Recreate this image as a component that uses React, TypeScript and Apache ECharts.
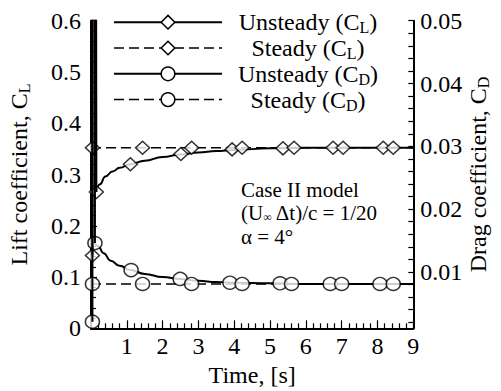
import React, { useEffect, useRef } from 'react';
import * as echarts from 'echarts';

const FONT = '"Liberation Serif", "Times New Roman", serif';

// ---------- data ----------
const LEGEND_NAMES = ['Unsteady (CL)', 'Steady (CL)', 'Unsteady (CD)', 'Steady (CD)'];

// Unsteady lift coefficient
const UCL_SPIKE_T = [0.04, 0.06, 0.15];
const UCL_SPIKE_V = [0.142, 5.0, 0.266];
const UCL_T = [0.15, 0.25, 0.4, 0.6, 0.8, 1.1, 1.5, 2.0, 2.5, 3.0, 3.5, 4.0, 5.0, 6.0, 9.0];
const UCL_V = [0.266, 0.281, 0.296, 0.306, 0.313, 0.32, 0.327, 0.334, 0.339, 0.343, 0.346, 0.348, 0.351, 0.352, 0.352];
const UCL_MARK_T = [0.04, 0.15, 1.1, 2.51, 3.94, 5.36, 6.76, 8.16];
const UCL_MARK_V = [0.142, 0.266, 0.32, 0.34, 0.349, 0.351, 0.352, 0.352];

// Steady lift coefficient
const SCL_T = [0, 9];
const SCL_V = [0.352, 0.352];
const SCL_MARK_T = [0.04, 1.44, 2.81, 4.22, 5.67, 7.04, 8.44];
const SCL_MARK_V = [0.352, 0.352, 0.352, 0.352, 0.352, 0.352, 0.352];

// Unsteady drag coefficient
const UCD_SPIKE_T = [0.04, 0.07, 0.11];
const UCD_SPIKE_V = [0.0021, 1.0, 0.0146];
const UCD_T = [0.11, 0.2, 0.35, 0.55, 0.8, 1.1, 1.5, 2.0, 2.5, 3.0, 3.5, 4.0, 5.0, 6.0, 9.0];
const UCD_V = [0.0146, 0.0141, 0.013, 0.0118, 0.011, 0.0103, 0.0097, 0.0092, 0.0089, 0.0086, 0.0084, 0.0083, 0.0082, 0.0081, 0.0081];
const UCD_MARK_T = [0.04, 0.11, 1.12, 2.49, 3.88, 5.28, 6.68, 8.07];
const UCD_MARK_V = [0.0021, 0.0146, 0.0103, 0.0089, 0.0083, 0.0082, 0.0081, 0.0081];

// Steady drag coefficient
const SCD_T = [0, 9];
const SCD_V = [0.0081, 0.0081];
const SCD_MARK_T = [0.04, 1.44, 2.81, 4.22, 5.6, 7.0, 8.44];
const SCD_MARK_V = [0.0081, 0.0081, 0.0081, 0.0081, 0.0081, 0.0081, 0.0081];

// Right (drag) axis ticks
const CD_LABELS = [0.01, 0.02, 0.03, 0.04, 0.05];
const CD_TICKS = [
  0.002, 0.004, 0.006, 0.008, 0.01, 0.012, 0.014, 0.016, 0.018, 0.02,
  0.022, 0.024, 0.026, 0.028, 0.03, 0.032, 0.034, 0.036, 0.038, 0.04,
  0.042, 0.044, 0.046, 0.048, 0.05,
];

const ANNOTATION_LINE1 = 'Case II model';
const ANNOTATION_LINE2 = ['(U', '∞', ' Δt)/c = 1/20'];
const ANNOTATION_LINE3 = 'α = 4°';

// ---------- helpers ----------
const zip = (t: number[], v: number[]) => t.map((x, i) => [x, v[i]]);

function textWidth(s: string, size: number) {
  const ctx = document.createElement('canvas').getContext('2d');
  if (!ctx) return s.length * size * 0.5;
  ctx.font = `${size}px "Liberation Serif"`;
  return ctx.measureText(s).width;
}

const MAIN_SIZE = 24;
const SUB_SIZE = 16;

function splitName(name: string) {
  const m = name.match(/^(.*\(C)(.)\)$/);
  return m ? { head: m[1], sub: m[2] } : { head: name, sub: '' };
}

export default function App() {
  const ref = useRef<HTMLDivElement>(null);

  useEffect(() => {
    if (!ref.current) return;
    const chart = echarts.init(ref.current, undefined, { renderer: 'svg' });

    const richMain = { fontFamily: FONT, fontSize: MAIN_SIZE, color: '#000', lineHeight: 24 };
    const richSub = { fontFamily: FONT, fontSize: SUB_SIZE, color: '#000', lineHeight: 24, padding: [11, 0, 0, 0] };

    const legendCenter = 307;
    const legendLeft = 113;
    const itemWidth = 108;
    const legendData = LEGEND_NAMES.map((name) => {
      const { head, sub } = splitName(name);
      const w = textWidth(head, MAIN_SIZE) + textWidth(')', MAIN_SIZE) + textWidth(sub, SUB_SIZE);
      const pad = Math.max(0, legendCenter - (legendLeft + itemWidth + 5) - w / 2);
      const steady = name.startsWith('Steady');
      return {
        name,
        textStyle: { padding: [0, 0, 0, pad] },
        lineStyle: { width: steady ? 1.5 : 2 },
      };
    });

    const markerStyle = { color: '#fff', borderColor: '#000', borderWidth: 1.5 };
    const dashed = [10, 5];

    const annotationRich = {
      n: { fontFamily: FONT, fontSize: 21, fill: '#000', lineHeight: 23.3 },
      s: { fontFamily: FONT, fontSize: 12, fill: '#000', lineHeight: 23.3, padding: [8, 0, 0, 0] },
    };

    const option: any = {
      animation: false,
      backgroundColor: '#fff',
      grid: { left: 91, right: 87.7, top: 20.7, bottom: 62.7, containLabel: false, outerBoundsMode: 'none' },
      legend: {
        orient: 'vertical',
        left: legendLeft,
        top: 8.7,
        padding: 0,
        itemWidth,
        itemHeight: 17,
        itemGap: -1.2,
        selectedMode: false,
        itemStyle: { color: '#fff', borderColor: '#000', borderWidth: 1.5 },
        textStyle: {
          fontFamily: FONT,
          fontSize: MAIN_SIZE,
          color: '#000',
          rich: { n: richMain, s: richSub },
        },
        formatter: (name: string) => {
          const { head, sub } = splitName(name);
          return `{n|${head}}{s|${sub}}{n|)}`;
        },
        data: legendData,
      },
      xAxis: {
        type: 'value',
        min: 0,
        max: 9,
        interval: 1,
        name: 'Time, [s]',
        nameLocation: 'middle',
        nameGap: 31,
        nameTextStyle: { fontFamily: FONT, fontSize: MAIN_SIZE, color: '#000' },
        axisLine: { show: true, onZero: false, lineStyle: { color: '#000', width: 2 } },
        axisTick: { show: true, inside: true, length: 8, lineStyle: { color: '#000', width: 1.2 } },
        minorTick: { show: true, splitNumber: 5, length: 5, lineStyle: { color: '#000', width: 1.2 } },
        splitLine: { show: false },
        axisLabel: {
          fontFamily: FONT,
          fontSize: MAIN_SIZE,
          color: '#000',
          margin: 6,
          formatter: (v: number) => (v === 0 ? '' : String(v)),
        },
      },
      yAxis: [
        {
          type: 'value',
          min: 0,
          max: 0.6,
          interval: 0.1,
          position: 'left',
          name: '{n|Lift coefficient, C}{s|L}',
          nameLocation: 'middle',
          nameRotate: 90,
          nameGap: 60,
          nameMoveOverlap: false,
          nameTextStyle: { fontFamily: FONT, fontSize: MAIN_SIZE, color: '#000', rich: { n: richMain, s: richSub } },
          axisLine: { show: true, onZero: false, lineStyle: { color: '#000', width: 2 } },
          axisTick: { show: true, inside: true, length: 6, lineStyle: { color: '#000', width: 1.2 } },
          minorTick: { show: true, splitNumber: 5, length: 5, lineStyle: { color: '#000', width: 1.2 } },
          splitLine: { show: false },
          axisLabel: {
            fontFamily: FONT,
            fontSize: MAIN_SIZE,
            color: '#000',
            margin: 10,
            formatter: (v: number) => (v === 0 ? '0' : v.toFixed(1)),
          },
        },
        {
          type: 'value',
          min: 0.00104,
          max: 0.05,
          position: 'right',
          name: '{n|Drag coefficient, C}{s|D}',
          nameLocation: 'middle',
          nameRotate: 90,
          nameGap: 53,
          nameMoveOverlap: false,
          nameTextStyle: { fontFamily: FONT, fontSize: MAIN_SIZE, color: '#000', rich: { n: richMain, s: richSub } },
          axisLine: { show: true, onZero: false, lineStyle: { color: '#000', width: 2 } },
          axisTick: { show: true, inside: true, length: 5, customValues: CD_TICKS, lineStyle: { color: '#000', width: 1.2 } },
          splitLine: { show: false },
          axisLabel: {
            fontFamily: FONT,
            fontSize: MAIN_SIZE,
            color: '#000',
            margin: 7,
            customValues: CD_LABELS,
            formatter: (v: number) => v.toFixed(2),
          },
        },
      ],
      graphic: [
        {
          type: 'text',
          left: 241,
          top: 179.5,
          z: 50,
          style: {
            text:
              `{n|${ANNOTATION_LINE1}}\n` +
              `{n|${ANNOTATION_LINE2[0]}}{s|${ANNOTATION_LINE2[1]}}{n|${ANNOTATION_LINE2[2]}}\n` +
              `{n|${ANNOTATION_LINE3}}`,
            rich: annotationRich,
          },
        },
      ],
      series: [
        {
          name: LEGEND_NAMES[0],
          type: 'line',
          yAxisIndex: 0,
          data: zip(UCL_T, UCL_V),
          smooth: true,
          smoothMonotone: 'x',
          symbol: 'diamond',
          symbolSize: 14,
          showSymbol: false,
          itemStyle: markerStyle,
          lineStyle: { color: '#000', width: 2 },
          z: 3,
        },
        {
          name: LEGEND_NAMES[1],
          type: 'line',
          yAxisIndex: 0,
          data: zip(SCL_T, SCL_V),
          symbol: 'diamond',
          symbolSize: 14,
          showSymbol: false,
          itemStyle: markerStyle,
          lineStyle: { color: '#000', width: 1.5, type: dashed },
          z: 2,
        },
        {
          name: LEGEND_NAMES[2],
          type: 'line',
          yAxisIndex: 1,
          data: zip(UCD_T, UCD_V),
          smooth: true,
          smoothMonotone: 'x',
          symbol: 'circle',
          symbolSize: 14,
          showSymbol: false,
          itemStyle: markerStyle,
          lineStyle: { color: '#000', width: 2 },
          z: 3,
        },
        {
          name: LEGEND_NAMES[3],
          type: 'line',
          yAxisIndex: 1,
          data: zip(SCD_T, SCD_V),
          symbol: 'circle',
          symbolSize: 14,
          showSymbol: false,
          itemStyle: markerStyle,
          lineStyle: { color: '#000', width: 1.5, type: dashed },
          z: 2,
        },
        {
          name: 'ucl-markers',
          type: 'scatter',
          yAxisIndex: 0,
          data: zip(UCL_MARK_T, UCL_MARK_V),
          symbol: 'diamond',
          symbolSize: [14, 13],
          itemStyle: markerStyle,
          z: 5,
        },
        {
          name: 'scl-markers',
          type: 'scatter',
          yAxisIndex: 0,
          data: zip(SCL_MARK_T, SCL_MARK_V),
          symbol: 'diamond',
          symbolSize: [14, 13],
          itemStyle: markerStyle,
          z: 5,
        },
        {
          name: 'ucd-markers',
          type: 'scatter',
          yAxisIndex: 1,
          data: zip(UCD_MARK_T, UCD_MARK_V),
          symbol: 'circle',
          symbolSize: [14, 13],
          itemStyle: markerStyle,
          z: 5,
        },
        {
          name: 'scd-markers',
          type: 'scatter',
          yAxisIndex: 1,
          data: zip(SCD_MARK_T, SCD_MARK_V),
          symbol: 'circle',
          symbolSize: [14, 13],
          itemStyle: markerStyle,
          z: 5,
        },
        {
          name: 'ucl-spike',
          type: 'line',
          yAxisIndex: 0,
          data: zip(UCL_SPIKE_T, UCL_SPIKE_V),
          symbol: 'none',
          lineStyle: { color: '#000', width: 2 },
          z: 8,
        },
        {
          name: 'ucd-spike',
          type: 'line',
          yAxisIndex: 1,
          data: zip(UCD_SPIKE_T, UCD_SPIKE_V),
          symbol: 'none',
          lineStyle: { color: '#000', width: 2 },
          z: 8,
        },
      ],
    };

    chart.setOption(option);
    return () => chart.dispose();
  }, []);

  return (
    <div
      ref={ref}
      style={{ position: 'fixed', left: 0, top: 0, width: 501, height: 391, background: '#fff' }}
    />
  );
}
